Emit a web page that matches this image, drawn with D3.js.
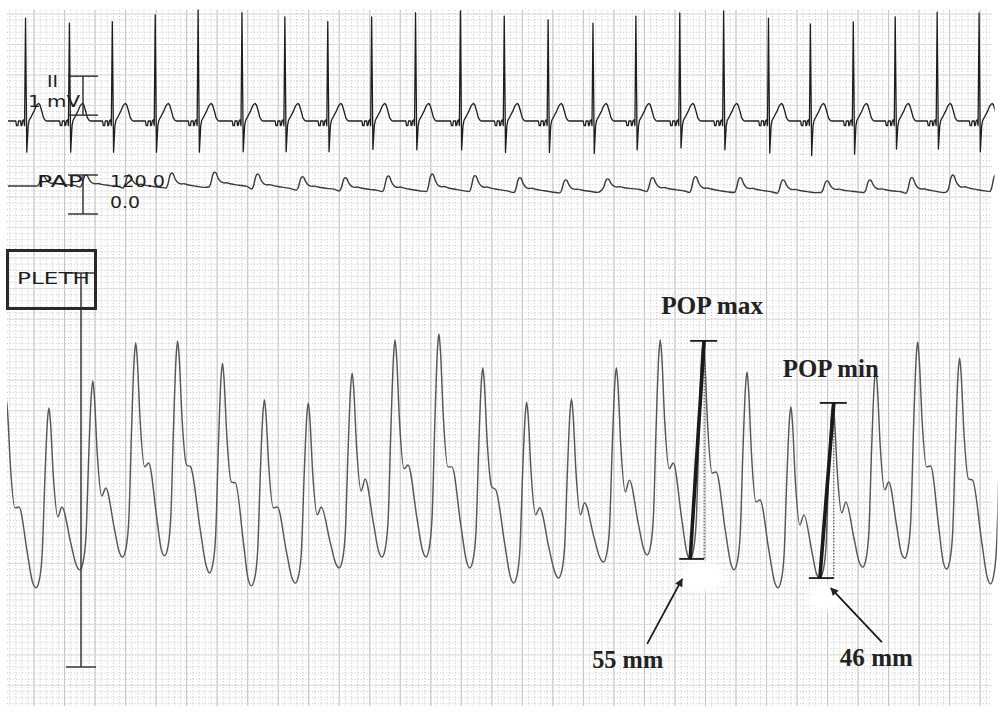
<!DOCTYPE html>
<html><head><meta charset="utf-8">
<script src="https://cdn.jsdelivr.net/npm/d3@7"></script>
<style>html,body{margin:0;padding:0;background:#fff;} svg{display:block;}</style>
</head><body>
<svg id="c" width="1004" height="713"></svg>
<script>
// ---------- DATA (read from the strip) ----------
// Lead II ECG: R-wave times (s), R amplitude (mV), S amplitude (mV)
const ecgRTimes = [0.19,0.64,1.08,1.52,1.96,2.41,2.85,3.29,3.74,4.19,4.65,5.10,5.55,6.01,6.45,6.90,7.35,7.81,8.24,8.68,9.11,9.54,9.97];
const ecgRAmp   = [2.64,2.51,2.55,2.72,2.85,2.78,2.67,2.55,2.67,2.78,2.82,2.69,2.59,2.51,2.69,2.77,2.82,2.64,2.49,2.54,2.67,2.79,2.77];
const ecgSAmp   = [-0.80,-0.80,-0.80,-0.80,-0.80,-0.79,-0.79,-0.79,-0.73,-0.74,-0.74,-0.81,-0.81,-0.83,-0.74,-0.69,-0.74,-0.82,-0.89,-0.85,-0.72,-0.72,-0.79];
// PAP: systolic peak times (s), peak and preceding trough (scale 0.0 - 120.0)
const papPeakTimes = [0.37,0.81,1.25,1.69,2.13,2.57,3.03,3.47,3.91,4.36,4.80,5.26,5.73,6.16,6.62,7.06,7.52,7.96,8.41,8.85,9.28,9.70,10.14];
const papPeaks     = [117,120,120,126,129,123,115,112,117,123,118,112,105,108,112,115,112,105,102,105,112,120,120];
const papTroughs   = [86,83,80,80,83,77,74,71,69,69,69,66,65,74,69,66,66,64,66,66,64,69,69];
// PLETH (mm on paper): peak times (s), peak, dicrotic notch, secondary bump, preceding trough
const plethPeakTimes = [-0.01,0.43,0.88,1.32,1.75,2.21,2.64,3.09,3.54,3.98,4.43,4.88,5.33,5.79,6.25,6.70,7.14,7.59,8.04,8.47,8.91,9.34,9.77,10.22];
const plethPeaks     = [69.0,66.4,73.3,83.1,83.6,77.9,68.5,67.7,75.4,83.8,85.4,76.7,67.9,68.7,76.7,83.8,83.6,75.6,66.7,67.7,76.2,83.3,79.2,76.2];
const plethNotches   = [40.8,38.5,43.8,51.3,51.8,47.4,40.8,39.0,45.1,50.8,51.3,46.2,39.0,39.0,44.9,50.8,49.7,42.3,36.4,39.5,45.4,51.3,48.2,45.0];
const plethBumps     = [41.0,41.0,45.9,52.3,51.3,47.2,41.0,41.0,48.2,51.8,51.3,45.4,40.8,42.1,47.9,52.3,50.0,42.8,39.0,42.3,47.4,51.5,47.9,45.0];
const plethTroughs   = [20.0,20.3,24.9,28.2,28.5,24.1,20.8,21.5,25.4,28.2,28.2,25.4,21.5,22.8,26.9,28.7,27.7,24.9,20.3,22.8,25.6,27.9,25.1,21.3];
// Annotations
const popBeats  = [16, 19];
const popLabels = ["POP max", "POP min"];
const popValues = ["55 mm", "46 mm"];

// ---------- beat shape templates (time offset s, fraction) ----------
const ecgShape = [[-0.10,0],[-0.092,-0.12],[-0.078,-0.12],[-0.072,0],[-0.05,0],[-0.046,-0.12],[-0.036,-0.1],[-0.031,0],[-0.018,0.03],[-0.01,-0.12],[0,'R'],[0.013,'S'],[0.027,-0.12],[0.038,0.02],[0.06,0.12],[0.085,0.24],[0.105,0.36],[0.122,0.43],[0.135,0.45],[0.148,0.41],[0.165,0.27],[0.185,0.08],[0.205,0.01],[0.215,0]];
const papShape = [[-0.06,0],[-0.04,0.25],[-0.02,0.8],[-0.008,0.97],[0,1],[0.012,0.96],[0.035,0.6],[0.07,0.32],[0.1,0.27],[0.125,0.29],[0.16,0.22],[0.25,0.12],[0.33,0.04]];
const plethUp = [[-0.133,0],[-0.1,0.04],[-0.07,0.18],[-0.042,0.6],[-0.015,0.93],[0,1]];
const plethDown = [[0.015,0.12],[0.045,0.62]];

// ---------- scales ----------
const svg = d3.select('#c');
const x = d3.scaleLinear().domain([0, 10]).range([7, 982]);
const yEcg = d3.scaleLinear().domain([0, 1]).range([121, 82]);
const yPap = d3.scaleLinear().domain([0, 120]).range([214, 175]);
const yPleth = d3.scaleLinear().domain([0, 101]).range([667, 273]);

// ---------- paper grid ----------
const grid = svg.append('g');
const gx0 = 7, gx1 = 992, gy0 = 10, gy1 = 706, major = 30.52, minor = major / 5;
const vMin = d3.range(3.5, gx1 + 0.1, minor).filter(v => v >= gx0);
const hMin = d3.range(14 - 4 * minor, gy1 + 0.1, minor).filter(v => v >= gy0);
grid.selectAll('.vm').data(vMin).join('line')
  .attr('x1', d => d).attr('x2', d => d).attr('y1', gy0).attr('y2', gy1)
  .attr('stroke', '#c4c4c4').attr('stroke-width', 1).attr('stroke-dasharray', '1 2.05');
grid.selectAll('.hm').data(hMin).join('line')
  .attr('y1', d => d).attr('y2', d => d).attr('x1', gx0).attr('x2', gx1)
  .attr('stroke', '#c4c4c4').attr('stroke-width', 1).attr('stroke-dasharray', '1 2.05');
const vMaj = d3.range(3.5, gx1 + 0.1, major).filter(v => v >= gx0);
const hMaj = d3.range(14, gy1 + 0.1, major);
grid.selectAll('.vM').data(vMaj).join('line')
  .attr('x1', d => d).attr('x2', d => d).attr('y1', gy0).attr('y2', gy1)
  .attr('stroke', '#c6c6c6').attr('stroke-width', 1.1);
grid.selectAll('.hM').data(hMaj).join('line')
  .attr('y1', d => d).attr('y2', d => d).attr('x1', gx0).attr('x2', gx1)
  .attr('stroke', '#dcdcdc').attr('stroke-width', 1);

// ---------- defs ----------
const defs = svg.append('defs');
function clip(id, t0, t1) {
  defs.append('clipPath').attr('id', id).append('rect')
    .attr('x', x(t0)).attr('y', 0).attr('width', x(t1) - x(t0)).attr('height', 713);
}
clip('cE', 0.01, 10.13); clip('cP', 0.01, 10.13); clip('cL', 0.0, 10.16);
defs.append('marker').attr('id', 'ah').attr('viewBox', '0 0 10 10').attr('refX', 9).attr('refY', 5)
  .attr('markerWidth', 11).attr('markerHeight', 8).attr('markerUnits', 'userSpaceOnUse').attr('orient', 'auto')
  .append('path').attr('d', 'M0,0L10,5L0,10z').attr('fill', '#222');
defs.append('filter').attr('id', 'blur').append('feGaussianBlur').attr('stdDeviation', 3);

// ---------- ECG ----------
const ecgPts = [[0, 0]];
ecgRTimes.forEach((t, i) => {
  ecgShape.forEach(([dt, v]) => ecgPts.push([t + dt, v === 'R' ? ecgRAmp[i] : v === 'S' ? ecgSAmp[i] : v]));
});
ecgPts.push([10.4, 0]);
svg.append('path').attr('clip-path', 'url(#cE)')
  .attr('d', d3.line().x(d => x(d[0])).y(d => yEcg(d[1])).curve(d3.curveLinear)(ecgPts))
  .attr('fill', 'none').attr('stroke', '#1e1e1e').attr('stroke-width', 1.3).attr('stroke-linejoin', 'round');

// ---------- PAP ----------
const papPts = [[0, papTroughs[0]]];
papPeakTimes.forEach((t, i) => {
  const r = papPeaks[i] - papTroughs[i];
  papShape.forEach(([dt, f]) => papPts.push([t + dt, papTroughs[i] + f * r]));
});
svg.append('path').attr('clip-path', 'url(#cP)')
  .attr('d', d3.line().x(d => x(d[0])).y(d => yPap(d[1])).curve(d3.curveMonotoneX)(papPts))
  .attr('fill', 'none').attr('stroke', '#3a3a3a').attr('stroke-width', 1.4);

// ---------- PLETH ----------
const plPts = [];
plethPeakTimes.forEach((t, i) => {
  const pk = plethPeaks[i], nt = plethNotches[i], bp = plethBumps[i], tr = plethTroughs[i];
  plethUp.forEach(([dt, f]) => plPts.push([t + dt, tr + f * (pk - tr)]));
  plethDown.forEach(([dt, f]) => plPts.push([t + dt, pk - f * (pk - nt)]));
  plPts.push([t + 0.092, nt]);
  plPts.push([t + 0.133, bp]);
  if (i + 1 < plethPeakTimes.length) {
    const tb = t + 0.133, tn = plethPeakTimes[i + 1] - 0.133, trn = plethTroughs[i + 1];
    plPts.push([tb + 0.5 * (tn - tb), bp - 0.58 * (bp - trn)]);
    plPts.push([tn - 0.035, trn + 0.07 * (bp - trn)]);
  }
});
plPts.sort((a, b) => a[0] - b[0]);
svg.append('path').attr('clip-path', 'url(#cL)')
  .attr('d', d3.line().x(d => x(d[0])).y(d => yPleth(d[1])).curve(d3.curveMonotoneX)(plPts))
  .attr('fill', 'none').attr('stroke', '#575757').attr('stroke-width', 1.45);

// ---------- calibration marks & channel labels ----------
const cal = svg.append('g').attr('stroke', '#2a2a2a').attr('stroke-width', 1.4);
function calBar(yTop, yBot, xc, half) {
  cal.append('line').attr('x1', xc).attr('x2', xc).attr('y1', yTop).attr('y2', yBot);
  cal.append('line').attr('x1', xc - half).attr('x2', xc + half).attr('y1', yTop).attr('y2', yTop);
  cal.append('line').attr('x1', xc - half).attr('x2', xc + half).attr('y1', yBot).attr('y2', yBot);
}
calBar(yEcg(1.15), yEcg(0.15), 83, 15);
calBar(yPap(120), yPap(0), 83, 15);
calBar(yPleth(101), yPleth(0), 81, 15);

const lbl = svg.append('g').attr('font-family', 'DejaVu Sans, Verdana, sans-serif').attr('fill', '#1e1e1e');
function t(txt, xx, yy, size, len) {
  lbl.append('text').attr('x', xx).attr('y', yy).attr('font-size', size)
    .attr('textLength', len).attr('lengthAdjust', 'spacingAndGlyphs').text(txt);
}
t('II', 47, 87, 15, 11);
t('1 mV', 28, 107, 15, 52);
t('PAP', 37, 187, 16.5, 46);
t('120.0', 110, 187, 16.5, 55);
t('0.0', 110, 208, 16.5, 30);
t('PLETH', 17, 284, 15.5, 73);
svg.append('rect').attr('x', 7.5).attr('y', 250.5).attr('width', 88).attr('height', 58)
  .attr('fill', 'none').attr('stroke', '#2a2a2a').attr('stroke-width', 3);

// ---------- POP annotations ----------
const ann = svg.append('g');
const annCfg = [
  {lab: [-43, -27], labW: 102, arrowTip: [-8, 20], arrowTail: [-43, 85], val: [-98, 109], valW: 71, blob: [12, 18, 22, 15]},
  {lab: [-51, -26], labW: 96, arrowTip: [11, 10], arrowTail: [62, 64], val: [20, 88], valW: 73, blob: [6, 19, 18, 14]}
];
popBeats.forEach((b, k) => {
  const c = annCfg[k];
  const xp = x(plethPeakTimes[b]) + 1, yp = yPleth(plethPeaks[b]);
  const xt = x(plethPeakTimes[b] - 0.133), yt = yPleth(plethTroughs[b]);
  ann.append('ellipse').attr('cx', xt + c.blob[0]).attr('cy', yt + c.blob[1]).attr('rx', c.blob[2]).attr('ry', c.blob[3])
    .attr('fill', '#fff').attr('filter', 'url(#blur)');
  ann.append('line').attr('x1', xp).attr('x2', xp).attr('y1', yp).attr('y2', yt)
    .attr('stroke', '#333').attr('stroke-width', 1).attr('stroke-dasharray', '1.5 1.5');
  ann.append('line').attr('x1', xt).attr('y1', yt).attr('x2', xp).attr('y2', yp)
    .attr('stroke', '#1a1a1a').attr('stroke-width', 3.6);
  ann.append('line').attr('x1', xp - 14).attr('x2', xp + 13).attr('y1', yp).attr('y2', yp)
    .attr('stroke', '#1a1a1a').attr('stroke-width', 1.8);
  ann.append('line').attr('x1', xt - 11).attr('x2', xt + 14).attr('y1', yt).attr('y2', yt)
    .attr('stroke', '#1a1a1a').attr('stroke-width', 1.8);
  ann.append('line').attr('x1', xt + c.arrowTail[0]).attr('y1', yt + c.arrowTail[1])
    .attr('x2', xt + c.arrowTip[0]).attr('y2', yt + c.arrowTip[1])
    .attr('stroke', '#1a1a1a').attr('stroke-width', 1.8).attr('marker-end', 'url(#ah)');
  ann.append('text').attr('x', xp + c.lab[0]).attr('y', yp + c.lab[1])
    .attr('font-family', 'Liberation Serif, Times New Roman, serif').attr('font-weight', 'bold')
    .attr('font-size', 25).attr('fill', '#222')
    .attr('textLength', c.labW).attr('lengthAdjust', 'spacingAndGlyphs').text(popLabels[k]);
  ann.append('text').attr('x', xt + c.val[0]).attr('y', yt + c.val[1])
    .attr('font-family', 'Liberation Serif, Times New Roman, serif').attr('font-weight', 'bold')
    .attr('font-size', 25).attr('fill', '#222')
    .attr('textLength', c.valW).attr('lengthAdjust', 'spacingAndGlyphs').text(popValues[k]);
});
</script>
</body></html>
